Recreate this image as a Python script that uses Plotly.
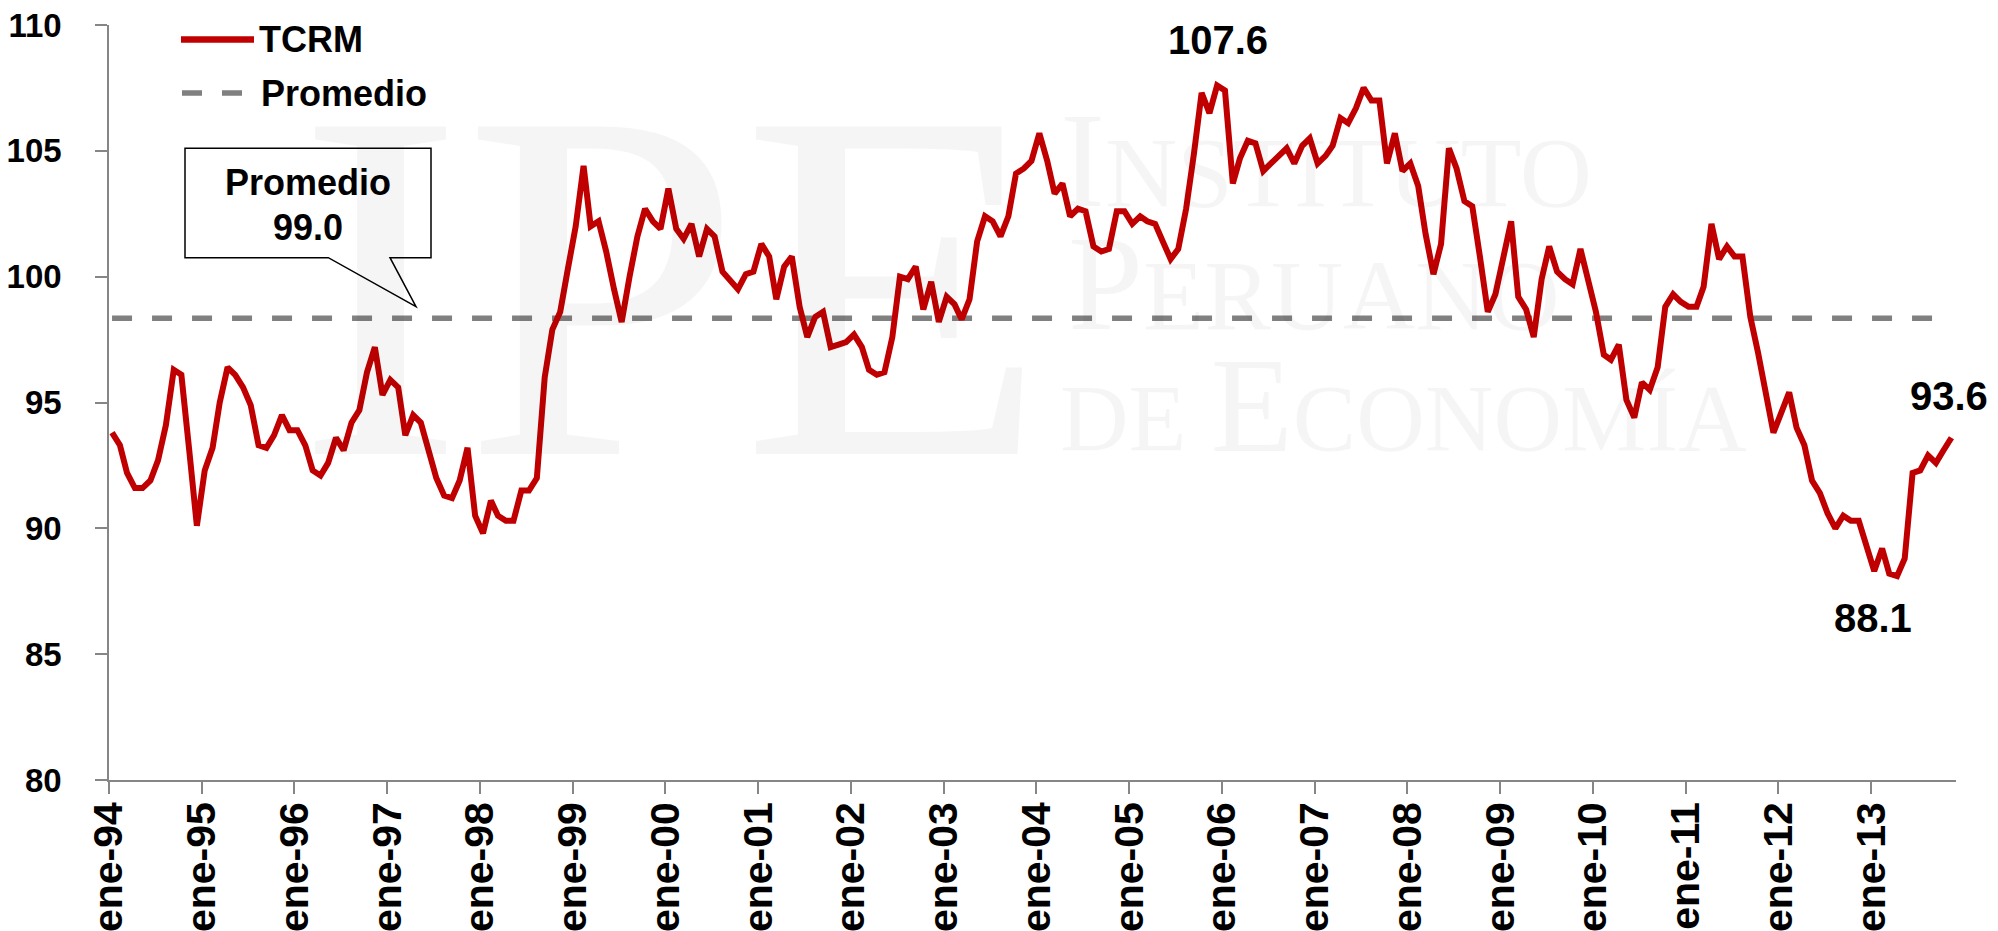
import pandas as pd
import plotly.graph_objects as go

# ---------------- data (TCRM, monthly, ene-94 .. nov-13) ----------------
tcrm_1994 = [93.8, 93.3, 92.2, 91.6, 91.6, 91.9, 92.7, 94.1, 96.3, 96.1, 93.1, 90.1]
tcrm_1995 = [92.3, 93.2, 95.0, 96.4, 96.1, 95.6, 94.9, 93.3, 93.2, 93.7, 94.5, 93.9]
tcrm_1996 = [93.9, 93.3, 92.3, 92.1, 92.6, 93.6, 93.1, 94.2, 94.7, 96.2, 97.2, 95.3]
tcrm_1997 = [95.9, 95.6, 93.7, 94.5, 94.2, 93.1, 92.0, 91.3, 91.2, 91.9, 93.2, 90.5]
tcrm_1998 = [89.8, 91.1, 90.5, 90.3, 90.3, 91.5, 91.5, 92.0, 96.0, 97.9, 98.6, 100.3]
tcrm_1999 = [102.0, 104.4, 102.0, 102.2, 101.0, 99.5, 98.2, 100.0, 101.6, 102.7, 102.2, 101.9]
tcrm_2000 = [103.5, 101.9, 101.5, 102.1, 100.8, 101.9, 101.6, 100.2, 99.8, 99.5, 100.1, 100.2]
tcrm_2001 = [101.3, 100.8, 99.1, 100.4, 100.8, 98.8, 97.6, 98.4, 98.6, 97.2, 97.3, 97.4]
tcrm_2002 = [97.7, 97.2, 96.3, 96.1, 96.2, 97.6, 100.0, 99.9, 100.4, 98.7, 99.8, 98.2]
tcrm_2003 = [99.2, 98.9, 98.3, 99.1, 101.4, 102.4, 102.2, 101.6, 102.4, 104.1, 104.3, 104.6]
tcrm_2004 = [105.7, 104.6, 103.3, 103.7, 102.4, 102.7, 102.6, 101.2, 101.0, 101.1, 102.6, 102.6]
tcrm_2005 = [102.1, 102.4, 102.2, 102.1, 101.4, 100.7, 101.1, 102.7, 104.9, 107.3, 106.5, 107.6]
tcrm_2006 = [107.4, 103.7, 104.7, 105.4, 105.3, 104.2, 104.5, 104.8, 105.1, 104.5, 105.2, 105.5]
tcrm_2007 = [104.5, 104.8, 105.2, 106.3, 106.1, 106.7, 107.5, 107.0, 107.0, 104.5, 105.7, 104.2]
tcrm_2008 = [104.5, 103.6, 101.7, 100.1, 101.3, 105.1, 104.3, 103.0, 102.8, 100.8, 98.6, 99.3]
tcrm_2009 = [100.7, 102.2, 99.2, 98.7, 97.6, 99.9, 101.2, 100.2, 99.9, 99.7, 101.1, 99.9]
tcrm_2010 = [98.6, 96.9, 96.7, 97.3, 95.1, 94.4, 95.8, 95.5, 96.4, 98.8, 99.3, 99.0]
tcrm_2011 = [98.8, 98.8, 99.6, 102.1, 100.7, 101.2, 100.8, 100.8, 98.4, 97.0, 95.5, 93.8]
tcrm_2012 = [94.6, 95.4, 94.0, 93.3, 91.9, 91.4, 90.6, 90.0, 90.5, 90.3, 90.3, 89.3]
tcrm_2013 = [88.3, 89.2, 88.2, 88.1, 88.8, 92.2, 92.3, 92.9, 92.6, 93.1, 93.6]

promedio_line_value = 98.35      # level at which the dashed average line is drawn
promedio_label = "99.0"          # value printed in the call-out

years = list(range(1994, 2014))
tick_text = ["ene-%02d" % (y % 100) for y in years]
tick_vals = ["%d-01-01" % y for y in years]

y_ticks = [80, 85, 90, 95, 100, 105, 110]

# ---------------- build series ----------------
tcrm = (tcrm_1994 + tcrm_1995 + tcrm_1996 + tcrm_1997 + tcrm_1998 + tcrm_1999 +
        tcrm_2000 + tcrm_2001 + tcrm_2002 + tcrm_2003 + tcrm_2004 + tcrm_2005 +
        tcrm_2006 + tcrm_2007 + tcrm_2008 + tcrm_2009 + tcrm_2010 + tcrm_2011 +
        tcrm_2012 + tcrm_2013)
n = len(tcrm)
dates = pd.date_range("1994-01-01", periods=n, freq="MS") + pd.Timedelta(days=12)
promedio = [promedio_line_value] * n

RED = "#C00000"
GRAY = "#868686"
DASH_GRAY = "#808080"
FONT = "Liberation Sans, Arial, sans-serif"

# plot-area pixel geometry (for decorations)
L, R, T, B = 109, 1956, 25, 780
W, H = R - L, B - T


def px(x):
    return (x - L) / W


def py(y):
    return (B - y) / H


fig = go.Figure()
fig.add_trace(go.Scatter(x=dates, y=promedio, mode="lines", name="Promedio",
                         line=dict(color=DASH_GRAY, width=5.5, dash="20px,20px"),
                         hoverinfo="skip"))
fig.add_trace(go.Scatter(x=dates, y=tcrm, mode="lines", name="TCRM",
                         line=dict(color=RED, width=6)))

annotations = []
shapes = []

# ---------------- watermark ----------------
WM = "rgba(0,0,0,0.04)"
annotations.append(dict(x=px(672), y=py(285), xref="paper", yref="paper",
                        text="IPE", showarrow=False, xanchor="center", yanchor="middle",
                        font=dict(family="Liberation Serif, serif", size=500, color=WM)))
annotations.append(dict(x=px(1058), y=py(160), xref="paper", yref="paper",
                        text="I<span style='font-size:100px'>NSTITUTO</span>",
                        showarrow=False, xanchor="left", yanchor="middle",
                        font=dict(family="Liberation Serif, serif", size=135, color=WM)))
annotations.append(dict(x=px(1066), y=py(283), xref="paper", yref="paper",
                        text="P<span style='font-size:100px'>ERUANO</span>",
                        showarrow=False, xanchor="left", yanchor="middle",
                        font=dict(family="Liberation Serif, serif", size=135, color=WM)))
annotations.append(dict(x=px(1058), y=py(405), xref="paper", yref="paper",
                        text="<span style='font-size:95px'>DE </span>E<span style='font-size:95px'>CONOMÍA</span>",
                        showarrow=False, xanchor="left", yanchor="middle",
                        font=dict(family="Liberation Serif, serif", size=135, color=WM)))

# ---------------- legend (drawn manually, Excel style) ----------------
shapes.append(dict(type="line", xref="paper", yref="paper",
                   x0=px(181), x1=px(254), y0=py(39.5), y1=py(39.5),
                   line=dict(color=RED, width=6.5)))
shapes.append(dict(type="line", xref="paper", yref="paper",
                   x0=px(182), x1=px(243), y0=py(93), y1=py(93),
                   line=dict(color=DASH_GRAY, width=5.5, dash="20px,20px")))
annotations.append(dict(x=px(257), y=py(40), xref="paper", yref="paper", text="TCRM",
                        showarrow=False, xanchor="left", yanchor="middle",
                        font=dict(family=FONT, size=36, color="black", weight="bold")))
annotations.append(dict(x=px(259), y=py(93), xref="paper", yref="paper", text="Promedio",
                        showarrow=False, xanchor="left", yanchor="middle",
                        font=dict(family=FONT, size=36, color="black", weight="bold")))

# ---------------- call-out ----------------
x0, x1 = px(185), px(431)
yt, yb = py(148.3), py(257.7)
bl, br = px(328.3), px(390)
tx, ty = px(416), py(306.7)
path = (f"M {x0},{yt} L {x1},{yt} L {x1},{yb} L {br},{yb} L {tx},{ty} "
        f"L {bl},{yb} L {x0},{yb} Z")
shapes.append(dict(type="path", xref="paper", yref="paper", path=path,
                   fillcolor="white", line=dict(color="black", width=1.5)))
annotations.append(dict(x=px(308), y=py(182), xref="paper", yref="paper", text="Promedio",
                        showarrow=False, xanchor="center", yanchor="middle",
                        font=dict(family=FONT, size=36, color="black", weight="bold")))
annotations.append(dict(x=px(308), y=py(227), xref="paper", yref="paper", text=promedio_label,
                        showarrow=False, xanchor="center", yanchor="middle",
                        font=dict(family=FONT, size=36, color="black", weight="bold")))

# ---------------- data labels ----------------
i_max = max(range(n), key=lambda i: tcrm[i])
i_min = min(range(n), key=lambda i: tcrm[i])
i_last = n - 1
for i, xs, ys in [(i_max, 1, 45), (i_min, -24, -42), (i_last, -2, 42)]:
    annotations.append(dict(x=dates[i], y=tcrm[i], xref="x", yref="y",
                            text=f"{tcrm[i]:.1f}", showarrow=False,
                            xanchor="center", yanchor="middle", xshift=xs, yshift=ys,
                            font=dict(family=FONT, size=40, color="black", weight="bold")))

fig.update_layout(
    width=1998, height=931,
    margin=dict(l=L, r=1998 - R, t=T, b=931 - B, autoexpand=False),
    paper_bgcolor="white", plot_bgcolor="white",
    showlegend=False,
    annotations=annotations, shapes=shapes,
)
fig.update_xaxes(type="date", range=["1994-01-01", "2013-12-01"],
                 tickvals=tick_vals, ticktext=tick_text, tickangle=-90,
                 ticks="outside", ticklen=12, tickwidth=1.5, tickcolor=GRAY,
                 showline=True, linecolor=GRAY, linewidth=1.5, showgrid=False,
                 zeroline=False, ticklabelstandoff=-8, automargin=False,
                 tickfont=dict(family=FONT, size=41, color="black", weight="bold"))
fig.update_yaxes(range=[80, 110], tickvals=y_ticks,
                 ticks="outside", ticklen=12, tickwidth=1.5, tickcolor=GRAY,
                 showline=True, linecolor=GRAY, linewidth=1.5, showgrid=False,
                 zeroline=False, ticklabelstandoff=27, automargin=False,
                 tickfont=dict(family=FONT, size=33, color="black", weight="bold"))

fig.write_html("out.html", config={"displayModeBar": False},
               post_script="document.body.style.margin='0';document.body.style.overflow='hidden';")
